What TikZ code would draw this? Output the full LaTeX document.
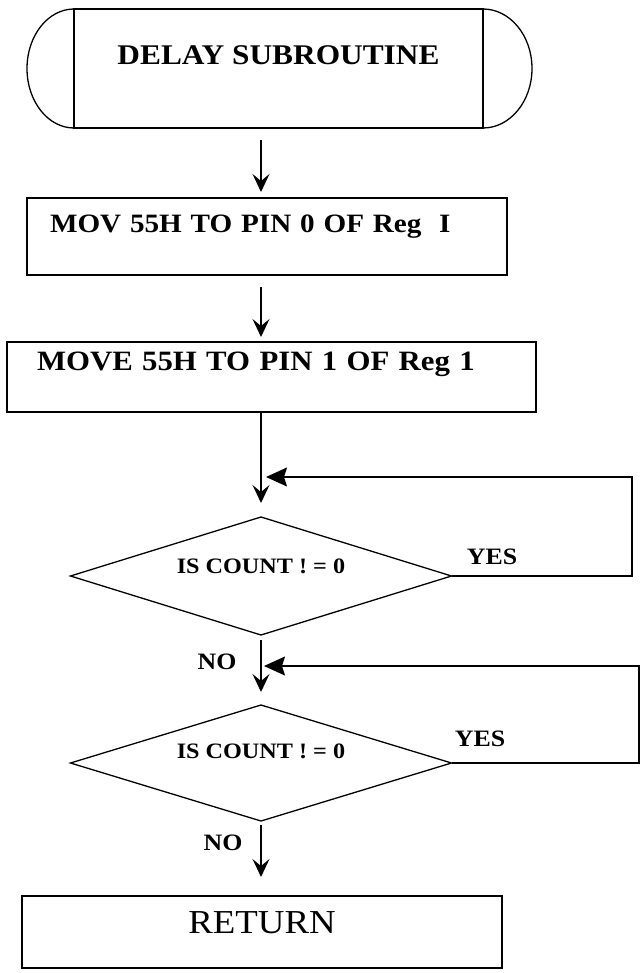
\documentclass[tikz,border=0pt]{standalone}
\usepackage{fontspec}
\setmainfont{Liberation Serif}[FakeStretch=1.1]
\usetikzlibrary{shapes.geometric,arrows.meta}

\tikzset{
  box/.style={draw, rectangle, line width=1.3pt, outer sep=0pt, inner ysep=0pt},
  decision/.style={draw, diamond, aspect=3.2, line width=1.3pt, outer sep=0pt, inner sep=0pt,
    minimum width=381pt, font=\fontsize{22pt}{24pt}\selectfont\bfseries, text height=14.4pt},
  flow/.style={line width=1.3pt, -{Stealth[length=18pt,width=17pt,inset=7pt]}},
  loopback/.style={line width=1.3pt, -{Stealth[length=21pt,width=19pt,inset=3pt]}},
  answer/.style={font=\fontsize{23.5pt}{25pt}\selectfont\bfseries, inner sep=0pt}
}

\begin{document}
\begin{tikzpicture}[x=1pt, y=-1pt]
\useasboundingbox (0,0) rectangle (641,973);

% column of the main flow
\coordinate (spine) at (261,0);

% start terminator (box with rounded ends)
\node[box, inner xsep=0pt, minimum width=409pt, minimum height=119pt,
  font=\fontsize{28.5pt}{30pt}\selectfont\bfseries, text height=18.7pt, text depth=26pt]
  (term) at (278.5,68.5) {DELAY SUBROUTINE};
\draw[line width=1.3pt] (term.north west) arc[start angle=90, end angle=270, x radius=47pt, y radius=59.5pt];
\draw[line width=1.3pt] (term.north east) arc[start angle=90, end angle=-90, x radius=49pt, y radius=59.5pt];

% the two register moves
\node[box, inner xsep=23pt, text width=434pt, align=left, minimum height=77pt,
  font=\fontsize{26.5pt}{28pt}\selectfont\bfseries, text height=17.4pt, text depth=25pt]
  (mov0) at (267,236.5) {MOV 55H TO PIN 0 OF Reg~~I};
\node[box, inner xsep=30pt, text width=469pt, align=left, minimum height=70pt,
  font=\fontsize{28pt}{30pt}\selectfont\bfseries, text height=18.3pt, text depth=32pt]
  (mov1) at (271.5,377) {MOVE 55H TO PIN 1 OF Reg 1};

% count tests
\node[decision, minimum height=118pt, text depth=20pt] (test1) at (261,576) {IS COUNT ! = 0};
\node[decision, minimum height=116pt, text depth=24pt] (test2) at (261,763) {IS COUNT ! = 0};

% end
\node[box, inner xsep=0pt, minimum width=480pt, minimum height=72pt,
  font=\fontsize{33.5pt}{35pt}\selectfont, text height=22pt, text depth=19pt]
  (ret) at (262,932) {RETURN};

% straight arrows down
\draw[flow, shorten <=12pt, shorten >=6pt] (term.south -| spine) -- (mov0.north -| spine);
\draw[flow, shorten <=12pt, shorten >=5pt] (mov0.south -| spine) -- (mov1.north -| spine);
\draw[flow, shorten >=14pt] (mov1.south -| spine) -- (test1.north);
\draw[flow, shorten <=5pt, shorten >=13pt] (test1.south) -- (test2.north);
\draw[flow, shorten <=4pt, shorten >=19pt] (test2.south) -- (ret.north -| spine);

% YES loops back above each test
\coordinate (back1) at (632,477);
\coordinate (back2) at (639,666);
\draw[loopback, shorten >=5pt] (test1.east) -| (back1) -- (back1 -| spine);
\draw[loopback, shorten >=3pt] (test2.east) -| (back2) -- (back2 -| spine);

% branch labels
\node[answer] (yes1) at (492,557) {YES};
\node[answer] (yes2) at (480,739) {YES};
\node[answer] (no1) at (217,662) {NO};
\node[answer] (no2) at (223,843) {NO};

\end{tikzpicture}
\end{document}
